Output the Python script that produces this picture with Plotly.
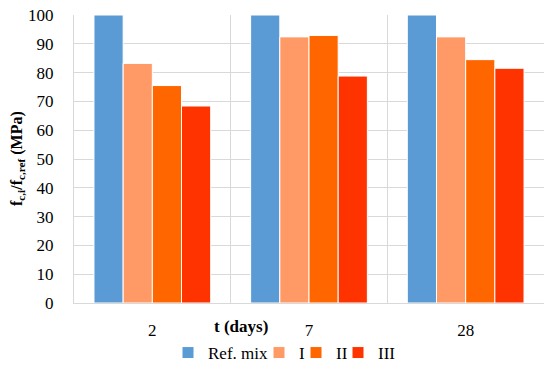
import plotly.graph_objects as go

categories = ["2", "7", "28"]
series_names = ["Ref. mix", "I", "II", "III"]
ref_mix = [100, 100, 100]
mix_I = [83.2, 92.4, 92.4]
mix_II = [75.5, 92.9, 84.5]
mix_III = [68.4, 78.8, 81.5]
colors = ["#5B9BD5", "#FF9966", "#FF6600", "#FF3300"]
y_ticks = [0, 10, 20, 30, 40, 50, 60, 70, 80, 90, 100]

font_family = "Liberation Serif, Times New Roman, DejaVu Serif, serif"
plot_l, plot_r, plot_t, plot_b = 74, 6, 15, 66
plot_w = 550 - plot_l - plot_r
plot_h = 369 - plot_t - plot_b

legend_ids = ["legend", "legend2", "legend3", "legend4"]
legend_px = [168, 259, 296, 338]

fig = go.Figure()
for name, vals, col, lid in zip(series_names, [ref_mix, mix_I, mix_II, mix_III], colors, legend_ids):
    fig.add_trace(go.Bar(x=categories, y=vals, name=name, legend=lid,
                         marker=dict(color=col, line=dict(color="white", width=1))))

legend_y = (303 - 353) / plot_h
legend_layout = {}
for lid, px in zip(legend_ids, legend_px):
    legend_layout[lid] = dict(orientation="h", x=(px - plot_l) / plot_w, xanchor="left",
                              y=legend_y, yanchor="middle", bgcolor="rgba(0,0,0,0)",
                              font=dict(family=font_family, size=17), itemwidth=30)

fig.update_layout(
    width=550, height=369,
    margin=dict(l=plot_l, r=plot_r, t=plot_t, b=plot_b, autoexpand=False),
    paper_bgcolor="white", plot_bgcolor="white",
    barmode="group", bargap=0.255, bargroupgap=0,
    font=dict(family=font_family, size=17, color="#000000"),
    showlegend=True,
    xaxis=dict(type="category", tickson="boundaries", showgrid=True,
               gridcolor="#D9D9D9", gridwidth=1, ticks="", showline=True,
               linecolor="#D9D9D9", linewidth=1, ticklabelstandoff=12,
               automargin=False,
               tickfont=dict(family=font_family, size=17)),
    yaxis=dict(range=[0, 100], tickvals=y_ticks, showgrid=True, gridcolor="#D9D9D9",
               gridwidth=1, showline=True, linecolor="#D9D9D9", ticks="",
               ticklabelstandoff=16, zeroline=False, automargin=False,
               tickfont=dict(family=font_family, size=17)),
    annotations=[
        dict(text="<b>t (days)</b>", x=0.355, y=-0.083, xref="paper", yref="paper",
             xanchor="center", yanchor="middle", showarrow=False,
             font=dict(family=font_family, size=17)),
        dict(text="<b>f<sub>c,i</sub>/f<sub>c,ref</sub> (MPa)</b>", x=(17 - plot_l) / plot_w,
             y=0.5, xref="paper", yref="paper", textangle=-90, showarrow=False,
             xanchor="center", yanchor="middle",
             font=dict(family=font_family, size=16)),
    ],
    **legend_layout,
)

fig.write_html("out.html", post_script="document.body.style.margin='0';",
               config={"displayModeBar": False})
